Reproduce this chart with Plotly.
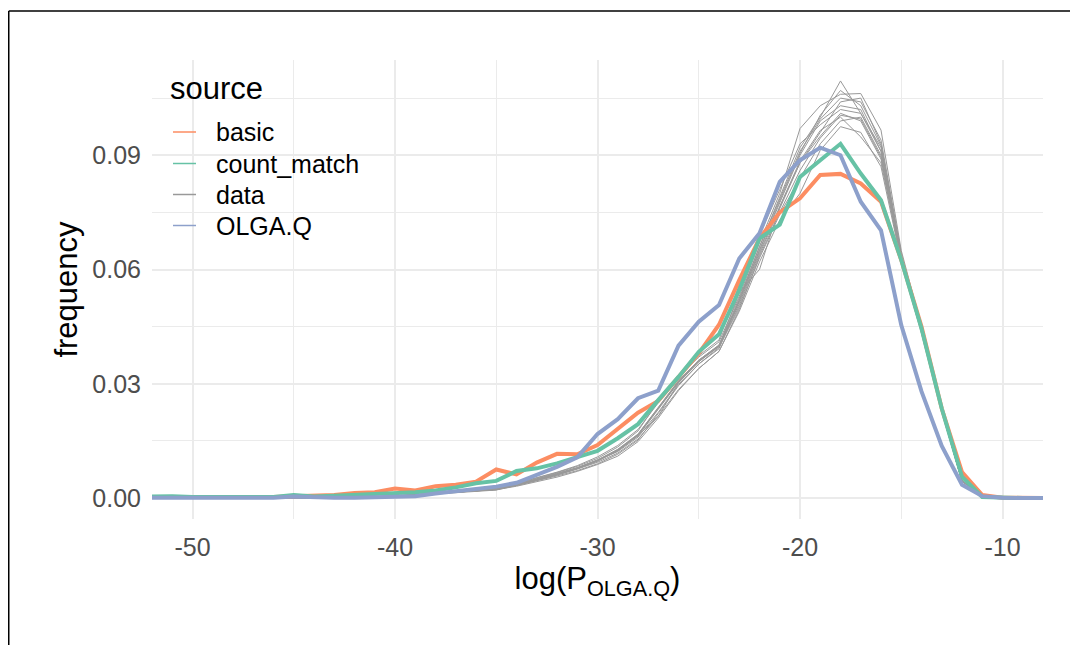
import plotly.graph_objects as go

# ---------------- data ----------------
log_p = [-52, -51, -50, -49, -48, -47, -46, -45, -44, -43, -42, -41,
         -40, -39, -38, -37, -36, -35, -34, -33, -32, -31, -30, -29,
         -28, -27, -26, -25, -24, -23, -22, -21, -20, -19, -18, -17,
         -16, -15, -14, -13, -12, -11, -10, -9, -8]

basic = [0.0003, 0.0003, 0.0002, 0.0002, 0.0003, 0.0004, 0.0003, 0.0005, 0.0006, 0.0008, 0.0013, 0.0015,
         0.0025, 0.0020, 0.0031, 0.0035, 0.0043, 0.0075, 0.0062, 0.0093, 0.0116, 0.0115, 0.0139, 0.0183,
         0.0224, 0.0255, 0.0318, 0.0380, 0.0455, 0.0572, 0.0682, 0.0750, 0.0787, 0.0848, 0.0851, 0.0826,
         0.0778, 0.0625, 0.0450, 0.0235, 0.0068, 0.0008, 0.0001, 0.0000, 0.0000]

count_match = [0.0004, 0.0005, 0.0003, 0.0003, 0.0005, 0.0004, 0.0003, 0.0008, 0.0004, 0.0006, 0.0008, 0.0010,
               0.0013, 0.0015, 0.0020, 0.0028, 0.0039, 0.0045, 0.0071, 0.0078, 0.0091, 0.0107, 0.0124, 0.0157,
               0.0194, 0.0257, 0.0318, 0.0384, 0.0430, 0.0546, 0.0682, 0.0718, 0.0843, 0.0887, 0.0930, 0.0852,
               0.0782, 0.0625, 0.0445, 0.0235, 0.0056, 0.0003, 0.0001, 0.0000, 0.0000]

olga_q = [0.0001, 0.0001, 0.0001, 0.0001, 0.0000, 0.0002, 0.0001, 0.0004, 0.0002, 0.0001, 0.0001, 0.0003,
          0.0005, 0.0005, 0.0012, 0.0018, 0.0025, 0.0030, 0.0040, 0.0060, 0.0082, 0.0107, 0.0168, 0.0207,
          0.0262, 0.0282, 0.0400, 0.0463, 0.0507, 0.0629, 0.0695, 0.0830, 0.0887, 0.0920, 0.0900, 0.0778,
          0.0703, 0.0454, 0.0280, 0.0137, 0.0035, 0.0005, 0.0001, 0.0000, 0.0000]

data_1 = [0.0000, 0.0000, 0.0001, 0.0000, 0.0000, 0.0001, 0.0000, 0.0001, 0.0001, 0.0002, 0.0001, 0.0003,
          0.0004, 0.0007, 0.0011, 0.0015, 0.0018, 0.0021, 0.0033, 0.0045, 0.0058, 0.0072, 0.0090, 0.0115,
          0.0152, 0.0222, 0.0295, 0.0352, 0.0392, 0.0520, 0.0660, 0.0790, 0.0920, 0.1000, 0.1095, 0.1010,
          0.0920, 0.0640, 0.0445, 0.0228, 0.0044, 0.0005, 0.0001, 0.0000, 0.0000]
data_2 = [0.0001, 0.0000, 0.0000, 0.0001, 0.0000, 0.0000, 0.0001, 0.0001, 0.0002, 0.0001, 0.0002, 0.0003,
          0.0006, 0.0009, 0.0013, 0.0017, 0.0020, 0.0025, 0.0039, 0.0053, 0.0068, 0.0085, 0.0108, 0.0138,
          0.0180, 0.0250, 0.0318, 0.0370, 0.0410, 0.0530, 0.0670, 0.0800, 0.0970, 0.1030, 0.1060, 0.1062,
          0.0966, 0.0650, 0.0450, 0.0235, 0.0046, 0.0006, 0.0001, 0.0000, 0.0000]
data_3 = [0.0000, 0.0001, 0.0000, 0.0000, 0.0001, 0.0000, 0.0001, 0.0000, 0.0001, 0.0002, 0.0002, 0.0002,
          0.0005, 0.0008, 0.0012, 0.0016, 0.0019, 0.0023, 0.0034, 0.0048, 0.0061, 0.0077, 0.0097, 0.0124,
          0.0163, 0.0233, 0.0303, 0.0358, 0.0398, 0.0505, 0.0640, 0.0760, 0.0880, 0.0960, 0.1040, 0.1050,
          0.0930, 0.0635, 0.0442, 0.0232, 0.0045, 0.0006, 0.0001, 0.0000, 0.0000]
data_4 = [0.0000, 0.0000, 0.0000, 0.0001, 0.0001, 0.0000, 0.0000, 0.0001, 0.0001, 0.0001, 0.0002, 0.0003,
          0.0005, 0.0009, 0.0012, 0.0017, 0.0020, 0.0024, 0.0036, 0.0049, 0.0063, 0.0079, 0.0100, 0.0128,
          0.0168, 0.0238, 0.0308, 0.0362, 0.0402, 0.0515, 0.0650, 0.0775, 0.0900, 0.0990, 0.1030, 0.1020,
          0.0910, 0.0632, 0.0440, 0.0230, 0.0045, 0.0006, 0.0001, 0.0000, 0.0000]
data_5 = [0.0001, 0.0000, 0.0001, 0.0000, 0.0000, 0.0001, 0.0001, 0.0000, 0.0002, 0.0001, 0.0001, 0.0002,
          0.0004, 0.0008, 0.0011, 0.0016, 0.0018, 0.0022, 0.0035, 0.0047, 0.0062, 0.0078, 0.0098, 0.0125,
          0.0165, 0.0235, 0.0305, 0.0360, 0.0400, 0.0510, 0.0645, 0.0765, 0.0880, 0.0950, 0.1010, 0.0990,
          0.0890, 0.0628, 0.0438, 0.0229, 0.0045, 0.0006, 0.0001, 0.0000, 0.0000]
data_6 = [0.0000, 0.0001, 0.0000, 0.0000, 0.0000, 0.0001, 0.0000, 0.0001, 0.0001, 0.0001, 0.0002, 0.0003,
          0.0006, 0.0008, 0.0013, 0.0015, 0.0020, 0.0023, 0.0036, 0.0050, 0.0064, 0.0080, 0.0099, 0.0122,
          0.0160, 0.0225, 0.0298, 0.0352, 0.0395, 0.0500, 0.0630, 0.0745, 0.0840, 0.0930, 0.0990, 0.1000,
          0.0900, 0.0625, 0.0436, 0.0228, 0.0044, 0.0006, 0.0001, 0.0000, 0.0000]
data_7 = [0.0000, 0.0000, 0.0001, 0.0000, 0.0001, 0.0000, 0.0000, 0.0001, 0.0000, 0.0001, 0.0001, 0.0002,
          0.0005, 0.0007, 0.0012, 0.0016, 0.0019, 0.0022, 0.0031, 0.0042, 0.0055, 0.0070, 0.0088, 0.0110,
          0.0148, 0.0210, 0.0282, 0.0340, 0.0385, 0.0490, 0.0620, 0.0730, 0.0800, 0.0913, 0.0975, 0.0960,
          0.0870, 0.0620, 0.0432, 0.0226, 0.0044, 0.0005, 0.0001, 0.0000, 0.0000]
data_8 = [0.0001, 0.0000, 0.0000, 0.0000, 0.0001, 0.0001, 0.0000, 0.0001, 0.0001, 0.0002, 0.0002, 0.0003,
          0.0005, 0.0008, 0.0012, 0.0016, 0.0019, 0.0023, 0.0035, 0.0049, 0.0063, 0.0078, 0.0099, 0.0127,
          0.0167, 0.0237, 0.0307, 0.0362, 0.0400, 0.0525, 0.0660, 0.0785, 0.0910, 0.0995, 0.1050, 0.1040,
          0.0940, 0.0642, 0.0446, 0.0233, 0.0046, 0.0006, 0.0001, 0.0000, 0.0000]
data_9 = [0.0000, 0.0001, 0.0000, 0.0001, 0.0000, 0.0000, 0.0001, 0.0000, 0.0001, 0.0001, 0.0002, 0.0002,
          0.0006, 0.0009, 0.0012, 0.0017, 0.0019, 0.0024, 0.0034, 0.0047, 0.0061, 0.0077, 0.0097, 0.0126,
          0.0164, 0.0215, 0.0302, 0.0358, 0.0398, 0.0540, 0.0600, 0.0765, 0.0885, 0.0965, 0.1000, 0.0948,
          0.0880, 0.0630, 0.0440, 0.0230, 0.0045, 0.0006, 0.0001, 0.0000, 0.0000]
data_10 = [0.0000, 0.0000, 0.0000, 0.0001, 0.0000, 0.0001, 0.0000, 0.0001, 0.0001, 0.0001, 0.0001, 0.0003,
           0.0005, 0.0008, 0.0013, 0.0016, 0.0020, 0.0023, 0.0036, 0.0048, 0.0062, 0.0079, 0.0100, 0.0124,
           0.0166, 0.0236, 0.0306, 0.0361, 0.0401, 0.0518, 0.0652, 0.0780, 0.0905, 0.1005, 0.1070, 0.1030,
           0.0925, 0.0638, 0.0443, 0.0231, 0.0045, 0.0006, 0.0001, 0.0000, 0.0000]
data_11 = [0.0001, 0.0000, 0.0001, 0.0000, 0.0000, 0.0000, 0.0001, 0.0001, 0.0001, 0.0002, 0.0002, 0.0002,
           0.0004, 0.0008, 0.0011, 0.0015, 0.0019, 0.0022, 0.0038, 0.0052, 0.0067, 0.0083, 0.0104, 0.0134,
           0.0176, 0.0255, 0.0320, 0.0374, 0.0415, 0.0560, 0.0690, 0.0810, 0.0930, 0.0980, 0.1020, 0.1010,
           0.0910, 0.0633, 0.0441, 0.0230, 0.0045, 0.0006, 0.0001, 0.0000, 0.0000]
data_12 = [0.0000, 0.0001, 0.0000, 0.0000, 0.0001, 0.0000, 0.0000, 0.0000, 0.0001, 0.0001, 0.0002, 0.0003,
           0.0005, 0.0008, 0.0012, 0.0016, 0.0019, 0.0023, 0.0033, 0.0046, 0.0060, 0.0076, 0.0094, 0.0118,
           0.0155, 0.0215, 0.0285, 0.0340, 0.0385, 0.0495, 0.0635, 0.0750, 0.0860, 0.0945, 0.1005, 0.0995,
           0.0895, 0.0627, 0.0437, 0.0228, 0.0044, 0.0005, 0.0001, 0.0000, 0.0000]

data_runs = [data_1, data_2, data_3, data_4, data_5, data_6,
             data_7, data_8, data_9, data_10, data_11, data_12]

x_tick_vals = [-50, -40, -30, -20, -10]
x_tick_text = ["-50", "-40", "-30", "-20", "-10"]
y_tick_vals = [0.0, 0.03, 0.06, 0.09]
y_tick_text = ["0.00", "0.03", "0.06", "0.09"]

legend_title = "source"
legend_names = ["basic", "count_match", "data", "OLGA.Q"]

# ---------------- style ----------------
FONT = "Liberation Sans, Arial, Helvetica, sans-serif"
C_BASIC = "#FC8D62"
C_COUNT = "#66C2A5"
C_DATA = "#999999"
C_OLGA = "#8DA0CB"
legend_colors = [C_BASIC, C_COUNT, C_DATA, C_OLGA]
GRID = "#EBEBEB"

OFF = 8                      # page offset of the plot div (body margin)
W, H = 1078 - OFF, 645 - OFF
# plot-area edges in page pixels
P_LEFT, P_RIGHT, P_TOP, P_BOTTOM = 152, 1043, 60, 519
L, R = P_LEFT - OFF, W - (P_RIGHT - OFF)
T, B = P_TOP - OFF, H - (P_BOTTOM - OFF)
pw, ph = W - L - R, H - T - B


def px2x(px_page):
    return (px_page - OFF - L) / pw


def py2y(py_page):
    return (H - B - (py_page - OFF)) / ph


fig = go.Figure()

for run in data_runs:
    fig.add_trace(go.Scatter(x=log_p, y=run, mode="lines",
                             line=dict(color=C_DATA, width=1),
                             showlegend=False, hoverinfo="skip"))

for name, ys, col in [("basic", basic, C_BASIC),
                      ("count_match", count_match, C_COUNT),
                      ("OLGA.Q", olga_q, C_OLGA)]:
    fig.add_trace(go.Scatter(x=log_p, y=ys, mode="lines", name=name,
                             line=dict(color=col, width=4),
                             showlegend=False))

axis_common = dict(showline=False, zeroline=False, showgrid=True,
                   gridcolor=GRID, gridwidth=2,
                   ticks="outside", tickcolor="rgba(0,0,0,0)",
                   tickfont=dict(family=FONT, size=25, color="#4D4D4D"))

# manual ggplot-style legend (title, short thin keys, labels)
annotations = [dict(text=legend_title, xref="paper", yref="paper",
                    x=px2x(168), y=py2y(89), xanchor="left", yanchor="middle",
                    showarrow=False, font=dict(family=FONT, size=31, color="black"))]
shapes = []
key_rows = [132, 163.5, 194.5, 225.5]
for name, col, yrow in zip(legend_names, legend_colors, key_rows):
    shapes.append(dict(type="line", xref="paper", yref="paper",
                       x0=px2x(173), x1=px2x(196), y0=py2y(yrow), y1=py2y(yrow),
                       line=dict(color=col, width=1.5)))
    annotations.append(dict(text=name, xref="paper", yref="paper",
                            x=px2x(214), y=py2y(yrow), xanchor="left", yanchor="middle",
                            showarrow=False, font=dict(family=FONT, size=25, color="black")))

# outer frame lines seen in the reference (top and left)
shapes += [
    dict(type="line", xref="paper", yref="paper",
         x0=px2x(OFF + 0.75), x1=px2x(1090), y0=py2y(11), y1=py2y(11),
         line=dict(color="black", width=1.5)),
    dict(type="line", xref="paper", yref="paper",
         x0=px2x(OFF + 0.75), x1=px2x(OFF + 0.75), y0=py2y(11), y1=py2y(660),
         line=dict(color="black", width=1.5)),
]

fig.update_layout(
    width=W, height=H,
    margin=dict(l=L, r=R, t=T, b=B),
    paper_bgcolor="white", plot_bgcolor="white",
    font=dict(family=FONT, color="black"),
    showlegend=False,
    xaxis=dict(range=[-52, -8], tickmode="array", tickvals=x_tick_vals,
               ticktext=x_tick_text, ticklen=6,
               minor=dict(tickmode="array", tickvals=[-45, -35, -25, -15],
                          showgrid=True, gridcolor=GRID, gridwidth=1),
               title=dict(text="log(P<sub>OLGA.Q</sub>)",
                          font=dict(family=FONT, size=31, color="black"),
                          standoff=2),
               **axis_common),
    yaxis=dict(range=[-0.0055, 0.115], tickmode="array", tickvals=y_tick_vals,
               ticktext=y_tick_text, ticklen=5,
               minor=dict(tickmode="array", tickvals=[0.015, 0.045, 0.075, 0.105],
                          showgrid=True, gridcolor=GRID, gridwidth=1),
               title=dict(text="frequency",
                          font=dict(family=FONT, size=31, color="black"),
                          standoff=5),
               **axis_common),
    annotations=annotations,
    shapes=shapes,
)

fig.write_html("out.html")
